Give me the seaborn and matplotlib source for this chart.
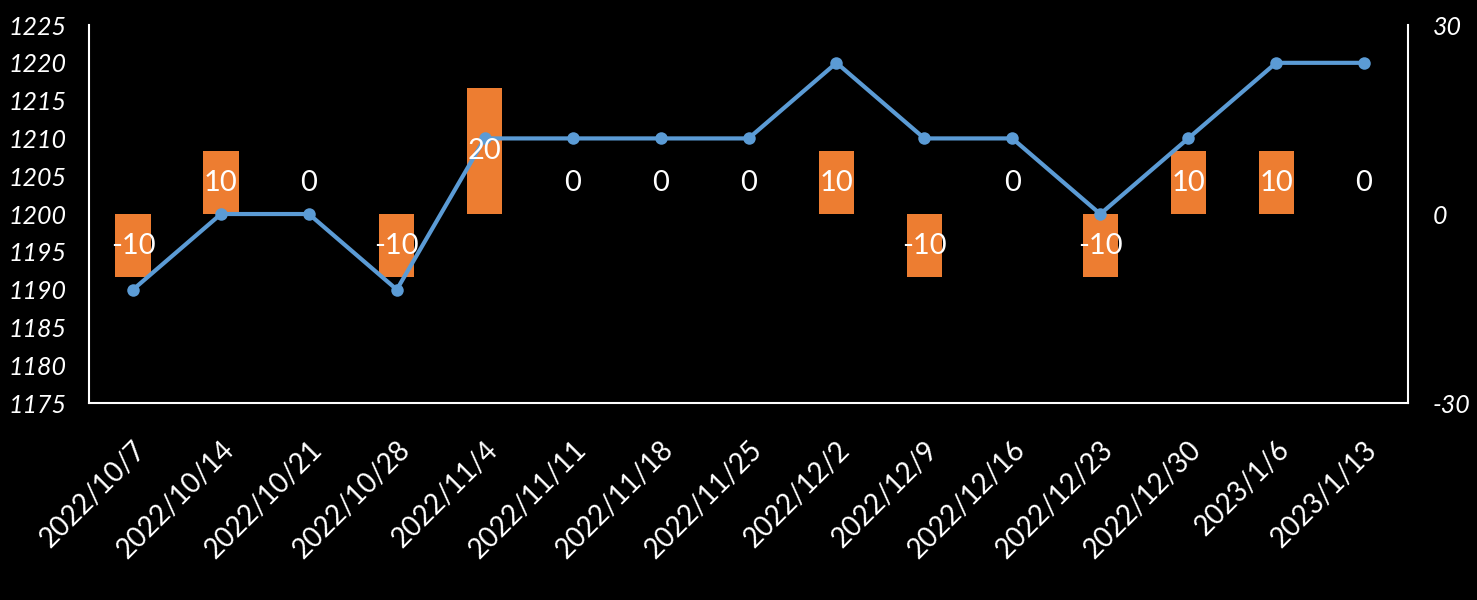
import matplotlib
matplotlib.use('Agg')
import matplotlib.pyplot as plt
import numpy as np
import pandas as pd
import seaborn as sns

# Dados do gráfico
dates = ['2022/10/7', '2022/10/14', '2022/10/21', '2022/10/28', '2022/11/4',
         '2022/11/11', '2022/11/18', '2022/11/25', '2022/12/2', '2022/12/9',
         '2022/12/16', '2022/12/23', '2022/12/30', '2023/1/6', '2023/1/13']
price = [1190, 1200, 1200, 1190, 1210, 1210, 1210, 1210, 1220, 1210,
         1210, 1200, 1210, 1220, 1220]
change = [-10, 10, 0, -10, 20, 0, 0, 0, 10, -10, 0, -10, 10, 10, 0]

left_ticks = list(range(1175, 1226, 5))
right_ticks = [-30, 0, 30]

LINE_COLOR = '#5B9BD5'
BAR_COLOR = '#ED7D31'

sns.set_style('dark')
plt.rcParams['font.family'] = ['Lato', 'DejaVu Sans']
plt.rcParams['axes.unicode_minus'] = False

df = pd.DataFrame({'date': dates, 'pos': np.arange(len(dates)),
                   'price': price, 'change': change})

fig = plt.figure(figsize=(14.77, 6), dpi=100, facecolor='black')
ax = fig.add_axes([0.0603, 0.3283, 0.893, 0.63])
ax2 = ax.twinx()

# barras no eixo direito (atrás da linha)
sns.barplot(data=df, x='pos', y='change', color=BAR_COLOR, width=0.4,
            saturation=1, linewidth=0, edgecolor='none', ax=ax2,
            order=list(range(len(dates))))
ax2.set_ylim(-30, 30)
ax2.set_yticks(right_ticks)

# linha no eixo esquerdo (na frente)
ax.set_zorder(ax2.get_zorder() + 1)
ax.patch.set_visible(False)
ax2.set_facecolor('black')
sns.lineplot(data=df, x='pos', y='price', color=LINE_COLOR, linewidth=3,
             marker='o', markersize=9, markeredgewidth=0, ax=ax)
ax.set_ylim(1175, 1225)
ax.set_yticks(left_ticks)
ax.set_xlim(-0.5, len(dates) - 0.5)
ax.set_xticks(df['pos'])
ax.set_xticklabels(dates, rotation=45, ha='right', rotation_mode='anchor')

# rótulos das barras
for i, v in enumerate(change):
    y = v / 2 if v != 0 else 5
    ax.text(i, y, f'{v}', transform=ax2.transData, color='white',
            fontsize=21, ha='center', va='center', zorder=5)

for a in (ax, ax2):
    a.set_xlabel('')
    a.set_ylabel('')
    a.grid(False)
    a.tick_params(length=0, colors='white', labelsize=18)
    for s in a.spines.values():
        s.set_visible(False)
ax.tick_params(axis='x', pad=24, labelsize=20)
ax.tick_params(axis='y', pad=16)
ax2.tick_params(axis='y', pad=18)
for t in ax.get_yticklabels() + ax2.get_yticklabels():
    t.set_style('italic')

for s in ('left', 'bottom', 'right'):
    ax.spines[s].set_visible(True)
    ax.spines[s].set_color('white')
    ax.spines[s].set_linewidth(1.5)

fig.savefig('out.png', dpi=100, facecolor='black')
